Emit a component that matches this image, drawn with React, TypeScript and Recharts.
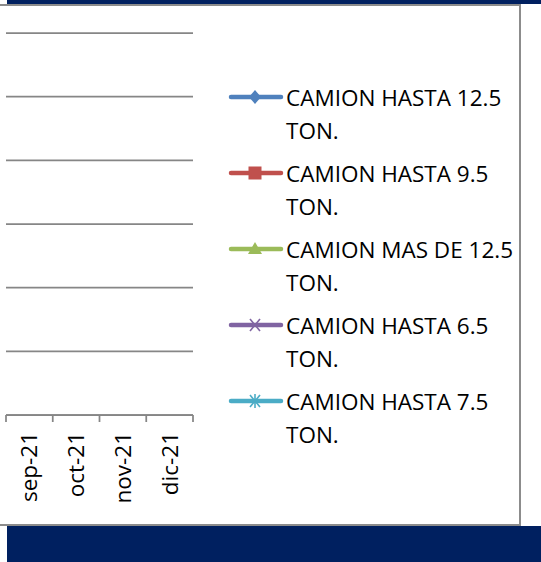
import { LineChart, Line, XAxis, YAxis, CartesianGrid, Legend } from "recharts";

const months = ["sep-21", "oct-21", "nov-21", "dic-21"];
const seriesNames = [
  "CAMION HASTA 12.5 TON.",
  "CAMION HASTA 9.5 TON.",
  "CAMION MAS DE 12.5 TON.",
  "CAMION HASTA 6.5 TON.",
  "CAMION HASTA 7.5 TON.",
];
// no values shown for these months in the visible part of the chart
const hasta125: (number | null)[] = [null, null, null, null];
const hasta95: (number | null)[] = [null, null, null, null];
const masDe125: (number | null)[] = [null, null, null, null];
const hasta65: (number | null)[] = [null, null, null, null];
const hasta75: (number | null)[] = [null, null, null, null];
const yTicks = [0, 1, 2, 3, 4, 5, 6];

const seriesValues = [hasta125, hasta95, masDe125, hasta65, hasta75];
const colors = ["#4F81BD", "#C0504D", "#9BBB59", "#8064A2", "#4BACC6"];
const markers = ["diamond", "square", "triangle", "cross", "star"];

const data = months.map((m, i) => {
  const row: any = { month: m };
  seriesValues.forEach((vals, s) => {
    row["s" + s] = vals[i];
  });
  return row;
});

const FONT = "'Open Sans', sans-serif";
const FONT_SIZE = 22.5;
const CHART_W = 521;
const CHART_H = 524;
const M_LEFT = 6;
const M_RIGHT = 328;
const BAND = (CHART_W - M_LEFT - M_RIGHT) / months.length;
const GRID = "#868686";

function MonthTick(props: any) {
  const { x, y, index } = props;
  const half = BAND / 2;
  return (
    <g>
      <line x1={x - half} x2={x - half} y1={y} y2={y + 7} stroke={GRID} strokeWidth={1.75} />
      {index === months.length - 1 && (
        <line x1={x + half} x2={x + half} y1={y} y2={y + 7} stroke={GRID} strokeWidth={1.75} />
      )}
      <text
        x={x}
        y={y + 17}
        dy="0.35em"
        transform={`rotate(-90 ${x} ${y + 17})`}
        textAnchor="end"
        fontFamily={FONT}
        fontSize={FONT_SIZE}
        fill="#000"
      >
        {props.payload.value}
      </text>
    </g>
  );
}

function Marker({ shape, color }: { shape: string; color: string }) {
  const cx = 27;
  const cy = 10;
  if (shape === "diamond")
    return <polygon points={`${cx},${cy - 7} ${cx + 6},${cy} ${cx},${cy + 7} ${cx - 6},${cy}`} fill={color} />;
  if (shape === "square") return <rect x={cx - 6.5} y={cy - 6.5} width={13} height={13} fill={color} />;
  if (shape === "triangle")
    return <polygon points={`${cx},${cy - 7} ${cx + 7},${cy + 5} ${cx - 7},${cy + 5}`} fill={color} />;
  if (shape === "cross")
    return (
      <g stroke={color} strokeWidth={1.6}>
        <line x1={cx - 5} y1={cy - 6} x2={cx + 5} y2={cy + 6} />
        <line x1={cx - 5} y1={cy + 6} x2={cx + 5} y2={cy - 6} />
      </g>
    );
  return (
    <g stroke={color} strokeWidth={1.6}>
      <line x1={cx - 5} y1={cy - 6} x2={cx + 5} y2={cy + 6} />
      <line x1={cx - 5} y1={cy + 6} x2={cx + 5} y2={cy - 6} />
      <line x1={cx} y1={cy - 7} x2={cx} y2={cy + 7} />
    </g>
  );
}

function renderLegend(props: any) {
  // keep the series order of the workbook, not alphabetical
  const items = [...(props.payload || [])].sort(
    (a: any, b: any) => seriesNames.indexOf(a.value) - seriesNames.indexOf(b.value)
  );
  return (
    <div style={{ fontFamily: FONT, fontSize: FONT_SIZE, lineHeight: "33px", color: "#000" }}>
      {items.map((entry: any) => (
        <div key={entry.value} style={{ display: "flex", alignItems: "flex-start", marginBottom: 10 }}>
          <svg width={58} height={33} style={{ flex: "none" }}>
            <g transform="translate(0 6)">
              <line x1={3} x2={53} y1={10} y2={10} stroke={entry.color} strokeWidth={4.5} strokeLinecap="round" />
              <Marker shape={markers[seriesNames.indexOf(entry.value)]} color={entry.color} />
            </g>
          </svg>
          <span style={{ width: 236 }}>{entry.value}</span>
        </div>
      ))}
    </div>
  );
}

export default function App() {
  return (
    <div style={{ position: "absolute", left: 0, top: 0, width: 541, height: 562, background: "#fff", overflow: "hidden" }}>
      <div style={{ position: "absolute", left: 7, top: 0, width: 534, height: 4, background: "#002060" }} />
      <div style={{ position: "absolute", left: 7, top: 526, width: 534, height: 36, background: "#002060" }} />
      <div
        style={{
          position: "absolute",
          left: 0,
          top: 4,
          width: 519,
          height: 518,
          borderTop: "2px solid #8c8c8c",
          borderRight: "2px solid #8c8c8c",
          borderBottom: "2px solid #8c8c8c",
        }}
      />
      <div style={{ position: "absolute", left: 0, top: 0 }}>
        <LineChart
          width={CHART_W}
          height={CHART_H}
          data={data}
          margin={{ top: 33, right: M_RIGHT, bottom: 9, left: M_LEFT }}
        >
          <CartesianGrid vertical={false} stroke={GRID} strokeWidth={1.75} />
          <XAxis
            dataKey="month"
            scale="band"
            height={100}
            axisLine={{ stroke: GRID, strokeWidth: 1.75 }}
            tickLine={false}
            tickSize={0}
            tickMargin={0}
            interval={0}
            tick={<MonthTick />}
          />
          <YAxis hide type="number" domain={[0, 6]} ticks={yTicks} allowDataOverflow />
          {seriesNames.map((name, s) => (
            <Line
              key={name}
              dataKey={"s" + s}
              name={name}
              stroke={colors[s]}
              strokeWidth={3}
              dot={false}
              isAnimationActive={false}
            />
          ))}
          <Legend
            layout="horizontal"
            align="center"
            verticalAlign="middle"
            content={renderLegend}
            wrapperStyle={{ left: 228, top: 81, width: 300, right: "auto", bottom: "auto" }}
          />
        </LineChart>
      </div>
    </div>
  );
}
